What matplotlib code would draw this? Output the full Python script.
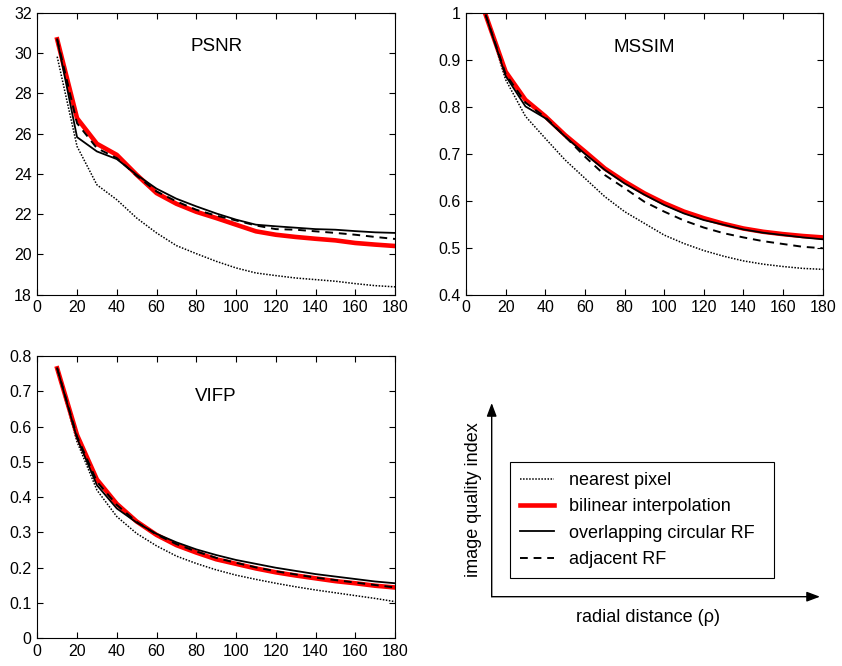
import matplotlib
matplotlib.use("Agg")
import matplotlib.pyplot as plt
from matplotlib.lines import Line2D
from matplotlib.patches import FancyArrowPatch

plt.rcParams['font.family'] = ['Liberation Sans', 'DejaVu Sans']

rho = [10, 20, 30, 40, 50, 60, 70, 80, 90, 100, 110, 120, 130, 140, 150, 160, 170, 180]

psnr_nearest = [29.83, 25.37, 23.46, 22.72, 21.81, 21.07, 20.44, 20.04, 19.66, 19.33, 19.08, 18.95, 18.83, 18.75, 18.67, 18.55, 18.45, 18.39]
psnr_bilinear = [30.69, 26.77, 25.50, 24.95, 23.96, 23.05, 22.52, 22.12, 21.81, 21.48, 21.15, 20.98, 20.87, 20.78, 20.70, 20.57, 20.49, 20.42]
psnr_overlap = [30.69, 25.83, 25.12, 24.74, 23.96, 23.27, 22.77, 22.39, 22.04, 21.73, 21.48, 21.40, 21.33, 21.26, 21.23, 21.16, 21.10, 21.07]
psnr_adjacent = [30.69, 26.52, 25.28, 24.79, 23.91, 23.13, 22.64, 22.22, 21.93, 21.69, 21.44, 21.26, 21.23, 21.15, 21.07, 20.98, 20.87, 20.77]

mssim_nearest = [0.995, 0.858, 0.780, 0.733, 0.687, 0.648, 0.609, 0.577, 0.552, 0.527, 0.509, 0.494, 0.482, 0.472, 0.465, 0.460, 0.456, 0.454]
mssim_bilinear = [0.995, 0.875, 0.815, 0.780, 0.740, 0.705, 0.669, 0.641, 0.616, 0.595, 0.577, 0.563, 0.551, 0.541, 0.534, 0.529, 0.525, 0.522]
mssim_overlap = [0.995, 0.866, 0.801, 0.776, 0.737, 0.700, 0.666, 0.637, 0.613, 0.591, 0.573, 0.559, 0.549, 0.539, 0.532, 0.527, 0.522, 0.518]
mssim_adjacent = [0.995, 0.870, 0.809, 0.778, 0.737, 0.694, 0.655, 0.627, 0.598, 0.577, 0.558, 0.543, 0.531, 0.522, 0.514, 0.508, 0.502, 0.499]

vifp_nearest = [0.760, 0.557, 0.420, 0.345, 0.297, 0.262, 0.233, 0.212, 0.194, 0.179, 0.167, 0.156, 0.146, 0.137, 0.129, 0.121, 0.113, 0.104]
vifp_bilinear = [0.765, 0.576, 0.450, 0.381, 0.331, 0.293, 0.264, 0.243, 0.224, 0.211, 0.198, 0.187, 0.178, 0.170, 0.162, 0.156, 0.149, 0.144]
vifp_overlap = [0.765, 0.567, 0.434, 0.368, 0.328, 0.296, 0.272, 0.252, 0.236, 0.222, 0.211, 0.200, 0.191, 0.182, 0.175, 0.168, 0.161, 0.156]
vifp_adjacent = [0.765, 0.572, 0.444, 0.378, 0.330, 0.294, 0.267, 0.246, 0.228, 0.214, 0.201, 0.190, 0.181, 0.172, 0.165, 0.158, 0.151, 0.144]

labels = ["nearest pixel", "bilinear interpolation", "overlapping circular RF", "adjacent RF"]

TICK_FS = 11.5
TITLE_FS = 13.5
TEXT_FS = 13
W, H = 842.0, 666.0
fig = plt.figure(figsize=(8.42, 6.66), dpi=100)

STYLES = [
    dict(color='black', linestyle=(0, (1, 1)), linewidth=1.1),
    dict(color='#ff0000', linestyle='-', linewidth=3.3),
    dict(color='black', linestyle='-', linewidth=1.3),
    dict(color='black', linestyle=(0, (4, 3)), linewidth=1.4),
]

def px(x0, y0, x1, y1):
    return [x0 / W, 1 - y1 / H, (x1 - x0) / W, (y1 - y0) / H]

def panel(rect, data, ylim, yticks, yticklabels, title, ty):
    ax = fig.add_axes(rect)
    for series, st in zip(data, STYLES):
        ax.plot(rho, series, **st)
    ax.set_xlim(0, 180)
    ax.set_ylim(*ylim)
    ax.set_xticks(list(range(0, 181, 20)))
    ax.set_yticks(yticks)
    ax.set_yticklabels(yticklabels)
    ax.tick_params(direction='in', top=True, right=True, length=4, width=0.8,
                   labelsize=TICK_FS, pad=4)
    for s in ax.spines.values():
        s.set_linewidth(0.8)
    ax.text(0.5, ty, title, transform=ax.transAxes, ha='center', va='center', fontsize=TITLE_FS)
    return ax

panel(px(37.3, 13, 395, 294.7), (psnr_nearest, psnr_bilinear, psnr_overlap, psnr_adjacent),
      (18, 32), list(range(18, 33, 2)), [str(v) for v in range(18, 33, 2)], "PSNR", 0.88)
mticks = [0.4, 0.5, 0.6, 0.7, 0.8, 0.9, 1.0]
panel(px(466, 13, 822.7, 294.7), (mssim_nearest, mssim_bilinear, mssim_overlap, mssim_adjacent),
      (0.4, 1.0), mticks, ["0.4", "0.5", "0.6", "0.7", "0.8", "0.9", "1"], "MSSIM", 0.876)
vticks = [0, 0.1, 0.2, 0.3, 0.4, 0.5, 0.6, 0.7, 0.8]
panel(px(37.3, 356, 395, 638.3), (vifp_nearest, vifp_bilinear, vifp_overlap, vifp_adjacent),
      (0, 0.8), vticks, ["0", "0.1", "0.2", "0.3", "0.4", "0.5", "0.6", "0.7", "0.8"], "VIFP", 0.856)

# schematic legend panel
ox, oy = 491.7 / W, 1 - 596.7 / H
for end in [(ox, 1 - 403 / H), (820 / W, oy)]:
    fig.add_artist(FancyArrowPatch((ox, oy), end, transform=fig.transFigure,
                   arrowstyle='-|>,head_length=8,head_width=3', color='black', lw=1.0,
                   mutation_scale=1, shrinkA=0, shrinkB=0))
fig.text(473 / W, 1 - 500 / H, "image quality index", rotation=90, ha='center', va='center', fontsize=TEXT_FS)
fig.text(648 / W, 1 - 618 / H, "radial distance (\u03c1)", ha='center', va='center', fontsize=TEXT_FS)

handles = [Line2D([], [], **st) for st in STYLES]
leg = fig.legend(handles, labels, loc='upper left',
                 bbox_to_anchor=(510 / W, 1 - 576 / H, 264 / W, 114 / H), mode='expand',
                 fontsize=TEXT_FS, frameon=True, fancybox=False, edgecolor='black', framealpha=1,
                 handlelength=1.9, handletextpad=0.8, labelspacing=0.52, borderpad=0.55,
                 borderaxespad=0)
leg.get_frame().set_linewidth(0.8)

fig.savefig("out.png", dpi=100)
